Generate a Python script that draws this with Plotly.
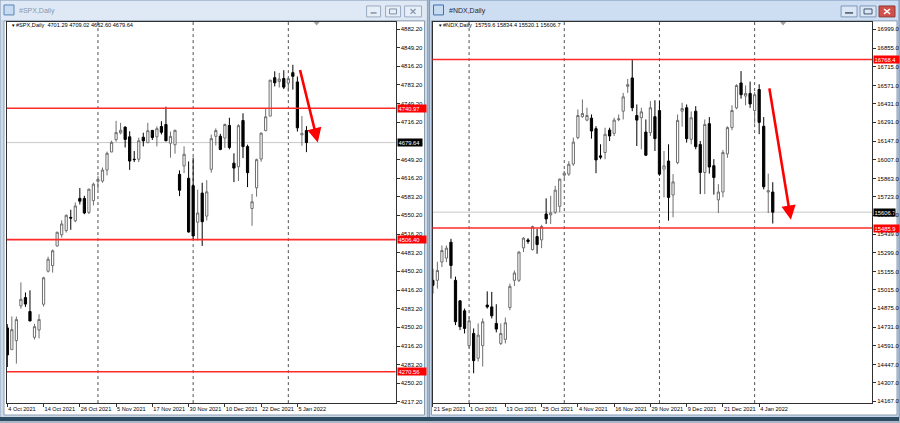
import plotly.graph_objects as go

# ---------------- data ----------------
spx_dates = ["2021-10-04","2021-10-05","2021-10-06","2021-10-07","2021-10-08","2021-10-11","2021-10-12","2021-10-13","2021-10-14","2021-10-15",
             "2021-10-18","2021-10-19","2021-10-20","2021-10-21","2021-10-22","2021-10-25","2021-10-26","2021-10-27","2021-10-28","2021-10-29",
             "2021-11-01","2021-11-02","2021-11-03","2021-11-04","2021-11-05","2021-11-08","2021-11-09","2021-11-10","2021-11-11","2021-11-12",
             "2021-11-15","2021-11-16","2021-11-17","2021-11-18","2021-11-19","2021-11-22","2021-11-23","2021-11-24","2021-11-26","2021-11-29",
             "2021-11-30","2021-12-01","2021-12-02","2021-12-03","2021-12-06","2021-12-07","2021-12-08","2021-12-09","2021-12-10","2021-12-13",
             "2021-12-14","2021-12-15","2021-12-16","2021-12-17","2021-12-20","2021-12-21","2021-12-22","2021-12-23","2021-12-27","2021-12-28",
             "2021-12-29","2021-12-30","2022-01-03","2022-01-04","2022-01-05","2022-01-06","2022-01-07"]
spx_open = [4348.8,4309.9,4326.0,4388.0,4403.0,4378.0,4332.0,4345.0,4391.0,4450.0,
            4460.0,4495.0,4515.0,4522.5,4546.1,4540.0,4580.0,4580.0,4555.0,4576.0,
            4610.6,4611.0,4630.7,4662.9,4685.0,4697.0,4707.3,4690.0,4650.0,4650.0,
            4689.3,4679.4,4701.5,4690.0,4708.4,4712.0,4678.5,4675.8,4623.0,4638.0,
            4616.0,4602.8,4537.5,4589.5,4548.4,4632.0,4690.9,4691.0,4687.6,4710.3,
            4643.0,4636.5,4719.1,4672.5,4562.0,4599.0,4650.4,4701.0,4727.0,4795.5,
            4788.6,4794.2,4786.0,4804.5,4788.0,4693.4,4701.29]
spx_high = [4355.5,4369.2,4369.0,4430.0,4412.0,4415.9,4356.0,4373.0,4440.0,4475.8,
            4488.8,4520.4,4540.9,4551.4,4559.7,4572.6,4598.5,4584.6,4597.6,4608.1,
            4620.3,4635.2,4663.5,4683.0,4718.5,4714.9,4708.5,4700.0,4664.6,4688.5,
            4697.4,4715.0,4701.5,4708.8,4717.8,4743.8,4699.4,4702.9,4630.0,4673.0,
            4646.0,4652.9,4595.5,4608.0,4612.6,4694.0,4705.1,4695.3,4713.6,4724.0,
            4660.5,4712.6,4732.0,4676.0,4588.0,4651.1,4697.7,4740.7,4791.5,4807.0,
            4804.1,4808.9,4796.6,4818.6,4797.7,4727.0,4709.02]
spx_low = [4278.9,4309.9,4285.0,4383.0,4386.2,4360.6,4328.0,4330.0,4386.7,4447.7,
           4447.5,4494.0,4510.0,4519.0,4524.0,4537.4,4569.2,4551.7,4552.0,4567.6,
           4595.1,4608.0,4621.2,4662.6,4681.3,4694.4,4670.9,4630.9,4645.0,4645.0,
           4672.9,4679.4,4684.4,4672.8,4694.2,4682.2,4652.7,4659.9,4584.0,4625.3,
           4519.0,4507.8,4504.7,4495.1,4540.5,4626.0,4674.5,4666.0,4670.2,4667.6,
           4609.0,4611.2,4651.9,4600.2,4531.1,4583.2,4645.5,4700.0,4727.0,4780.0,
           4778.1,4775.3,4771.0,4774.3,4699.4,4674.0,4662.60]
spx_close = [4300.5,4345.7,4363.6,4399.8,4391.3,4361.2,4351.0,4363.8,4438.3,4471.4,
             4486.5,4519.6,4534.4,4549.8,4544.9,4566.5,4575.0,4554.0,4596.4,4605.4,
             4613.7,4630.7,4660.6,4680.1,4697.5,4701.7,4685.3,4646.7,4649.3,4682.9,
             4682.8,4700.9,4688.7,4704.5,4698.0,4682.9,4690.7,4701.5,4594.6,4658.8,
             4520.0,4513.0,4554.0,4538.4,4591.7,4686.8,4701.2,4667.5,4712.0,4671.0,
             4634.1,4709.9,4672.5,4626.0,4574.0,4649.2,4696.6,4725.8,4791.2,4786.4,
             4793.1,4778.7,4793.8,4798.0,4706.0,4696.1,4679.64]

ndx_dates = ["2021-09-21","2021-09-22","2021-09-23","2021-09-24","2021-09-27","2021-09-28","2021-09-29","2021-09-30","2021-10-01","2021-10-04",
             "2021-10-05","2021-10-06","2021-10-07","2021-10-08","2021-10-11","2021-10-12","2021-10-13","2021-10-14","2021-10-15","2021-10-18",
             "2021-10-19","2021-10-20","2021-10-21","2021-10-22","2021-10-25","2021-10-26","2021-10-27","2021-10-28","2021-10-29","2021-11-01",
             "2021-11-02","2021-11-03","2021-11-04","2021-11-05","2021-11-08","2021-11-09","2021-11-10","2021-11-11","2021-11-12","2021-11-15",
             "2021-11-16","2021-11-17","2021-11-18","2021-11-19","2021-11-22","2021-11-23","2021-11-24","2021-11-26","2021-11-29","2021-11-30",
             "2021-12-01","2021-12-02","2021-12-03","2021-12-06","2021-12-07","2021-12-08","2021-12-09","2021-12-10","2021-12-13","2021-12-14",
             "2021-12-15","2021-12-16","2021-12-17","2021-12-20","2021-12-21","2021-12-22","2021-12-23","2021-12-27","2021-12-28","2021-12-29",
             "2021-12-30","2022-01-03","2022-01-04","2022-01-05","2022-01-06","2022-01-07"]
ndx_open = [15088,15088,15227,15257,15378,15088,14932,14856,14591,14684,
            14495,14591,14900,14886,14760,14608,14639,14881,15088,15088,
            15335,15395,15322,15421,15396,15593,15586,15606,15651,15888,
            15896,15973,16174,16333,16307,16322,16242,16035,16060,16231,
            16206,16310,16375,16564,16628,16342,16325,16216,16211,16333,
            16380,15934,15996,15737,15984,16375,16401,16161,16375,16121,
            15909,16280,15960,15700,15760,16050,16250,16400,16590,16490,
            16510,16380,16540,16260,15760,15759.6]
ndx_high = [15176,15229,15353,15353,15404,15116,14936,14873,14813,14722,
            14760,14798,15004,15000,14906,14760,14805,15063,15163,15310,
            15416,15409,15504,15479,15510,15712,15731,15807,15863,15921,
            15994,16174,16388,16464,16401,16350,16261,16123,16249,16249,
            16325,16350,16514,16620,16768,16426,16401,16312,16451,16458,
            16451,16072,16123,15896,16350,16439,16426,16373,16413,16148,
            16312,16330,16010,15820,16080,16260,16420,16580,16680,16570,
            16600,16520,16580,16330,15900,15834.4]
ndx_low = [14987,15025,15189,15227,15101,14747,14709,14684,14571,14381,
           14470,14432,14873,14798,14692,14596,14608,14861,15045,15075,
           15303,15366,15315,15290,15333,15517,15517,15593,15606,15863,
           15883,15959,16161,16325,16299,16166,15903,16009,16009,16148,
           16186,16299,16312,16514,16375,16110,16085,16034,16186,16072,
           15883,15719,15542,15568,15971,16257,16136,16123,16085,15744,
           15744,15900,15740,15600,15720,16020,16230,16390,16470,16420,
           16400,16280,16200,15780,15600,15520.1]
ndx_close = [15050,15163,15315,15333,15201,14773,14735,14722,14780,14477,
             14671,14773,14886,14818,14717,14684,14765,15042,15144,15303,
             15409,15384,15497,15360,15497,15555,15601,15774,15858,15903,
             15971,16140,16342,16357,16342,16224,16004,16025,16199,16186,
             16307,16316,16484,16577,16401,16307,16370,16040,16401,16166,
             15896,15959,15719,15837,16305,16395,16166,16325,16105,15909,
             16274,15950,15870,15760,16060,16250,16380,16570,16500,16510,
             16430,16500,16290,15800,15770,15606.7]

spx_tick_idx = [0, 8, 16, 24, 32, 40, 48, 56, 64]
spx_tick_labels = ["4 Oct 2021", "14 Oct 2021", "26 Oct 2021", "5 Nov 2021", "17 Nov 2021",
                   "30 Nov 2021", "10 Dec 2021", "22 Dec 2021", "5 Jan 2022"]
ndx_tick_idx = [0, 8, 16, 24, 32, 40, 48, 56, 64, 72]
ndx_tick_labels = ["21 Sep 2021", "1 Oct 2021", "13 Oct 2021", "25 Oct 2021", "4 Nov 2021",
                   "16 Nov 2021", "29 Nov 2021", "9 Dec 2021", "21 Dec 2021", "4 Jan 2022"]

spx_price_ticks = [4882.20, 4849.20, 4816.20, 4783.20, 4749.20, 4716.20, 4649.20, 4616.20, 4583.20,
                   4550.20, 4516.20, 4483.20, 4450.20, 4416.20, 4383.20, 4350.20, 4316.20, 4283.20, 4250.20, 4217.20]
ndx_price_ticks = [16999.0, 16855.0, 16715.0, 16571.0, 16431.0, 16291.0, 16147.0, 16007.0, 15863.0, 15723.0,
                   15583.0, 15439.0, 15299.0, 15155.0, 15015.0, 14875.0, 14731.0, 14591.0, 14447.0, 14307.0, 14167.0]

spx_levels = [4740.97, 4506.40, 4270.56]
ndx_levels = [16768.4, 15485.9]
spx_grid_idx = [20, 41, 62]
ndx_grid_idx = [8, 29, 50, 71]
spx_arrow = [(64.5, 4812.0), (68.5, 4680.0)]   # tail, tip
ndx_arrow = [(74.2, 16560.0), (79.0, 15549.0)]

# ---------------- helpers ----------------
W, H = 900, 423
def X(p): return p / W
def Y(p): return 1 - p / H

FONT = "Liberation Sans"
shapes = []
annots = []

def rect(x0, y0, x1, y1, fill, line=None, lw=0, layer="below"):
    shapes.append(dict(type="rect", xref="paper", yref="paper", x0=X(x0), x1=X(x1), y0=Y(y1), y1=Y(y0),
                       fillcolor=fill, line=dict(color=line or fill, width=lw), layer=layer))

def pline(x0, y0, x1, y1, color, w=1, layer="above"):
    shapes.append(dict(type="line", xref="paper", yref="paper", x0=X(x0), x1=X(x1), y0=Y(y0), y1=Y(y1),
                       line=dict(color=color, width=w), layer=layer))

def text(x, y, s, size=6, color="black", anchor="left"):
    annots.append(dict(xref="paper", yref="paper", x=X(x), y=Y(y), text=s, showarrow=False,
                       xanchor=anchor, yanchor="middle", font=dict(size=size, color=color, family=FONT)))

# window chrome
rect(0, 0, 900, 423, "#a9b7c8")
rect(0, 0, 428, 420, "#cddaea", "#8fa4bd", 1)
rect(1, 1, 427, 20, "#dfe9f5")
rect(4, 21, 425, 417, "white", "#8d9db0", 1)
rect(430, 0, 900, 420, "#c3d5ec", "#7f9bbd", 1)
rect(431, 1, 899, 20, "#cddef2")
rect(432, 21, 898, 417, "white", "#8d9db0", 1)
rect(0, 419, 900, 423, "#2e4d62")
# icons
rect(4, 5, 14, 15, "#c7dbf1", "#5a84b8", 1)
rect(434, 5, 444, 15, "#c7dbf1", "#3f70b0", 1)
# buttons
for bx0, bx1 in [(367, 381), (386, 401), (405, 422)]:
    rect(bx0, 6, bx1, 17, "#e6eef8", "#9aabc2", 1)
for bx0, bx1 in [(842, 858), (861, 877)]:
    rect(bx0, 6, bx1, 17, "#dbe7f5", "#7f97b8", 1)
rect(880, 6, 896, 17, "#d0514a", "#8e3a36", 1)
pline(371, 13, 377, 13, "#8090a8", 1.5)
rect(390, 9, 397, 14, "rgba(0,0,0,0)", "#8090a8", 1, layer="above")
pline(411, 9, 416, 14, "#8090a8", 1.2); pline(411, 14, 416, 9, "#8090a8", 1.2)
pline(846, 13, 854, 13, "#40546e", 1.5)
rect(865, 9, 873, 14, "rgba(0,0,0,0)", "#40546e", 1, layer="above")
pline(885, 9, 891, 14, "white", 1.5); pline(885, 14, 891, 9, "white", 1.5)

text(17, 11, "#SPX,Daily", 7, "#8797ad")
text(447, 11, "#NDX,Daily", 7, "#1d2b3c")

# header texts and markers
def header(name, o, h, l, c, digits):
    fmt = "{:." + str(digits) + "f}"
    return f"{name}  " + " ".join(fmt.format(v) for v in (o, h, l, c))

text(9, 25.5, "▼", 4.5)
text(14, 25.5, header("#SPX,Daily", spx_open[-1], spx_high[-1], spx_low[-1], spx_close[-1], 2), 5.6)
text(436, 25.5, "▼", 4.5)
text(441, 25.5, header("#NDX,Daily", ndx_open[-1], ndx_high[-1], ndx_low[-1], ndx_close[-1], 1), 5.6)

for mx in (317, 784):
    shapes.append(dict(type="path", xref="paper", yref="paper",
                       path=f"M {X(mx-3)},{Y(22)} L {X(mx+3)},{Y(22)} L {X(mx)},{Y(25.5)} Z",
                       fillcolor="#a0a0a0", line=dict(width=0), layer="above"))

# ---------------- figure ----------------
fig = go.Figure()

candle_style = dict(
    increasing=dict(line=dict(color="#6e6e6e", width=1), fillcolor="white"),
    decreasing=dict(line=dict(color="black", width=1), fillcolor="black"),
    whiskerwidth=0, showlegend=False, hoverinfo="skip")

fig.add_trace(go.Candlestick(x=list(range(len(spx_dates))), open=spx_open, high=spx_high,
                             low=spx_low, close=spx_close, xaxis="x", yaxis="y", **candle_style))
fig.add_trace(go.Candlestick(x=list(range(len(ndx_dates))), open=ndx_open, high=ndx_high,
                             low=ndx_low, close=ndx_close, xaxis="x2", yaxis="y2", **candle_style))

def panel_decor(xr, yr, levels, grid_idx, last_close, arrow, badge_x, digits, badge_w):
    for gi in grid_idx:
        shapes.append(dict(type="line", xref=xr, yref=f"{yr} domain", x0=gi, x1=gi, y0=0, y1=1,
                           line=dict(color="#505050", width=1, dash="dot"), layer="below"))
    shapes.append(dict(type="line", xref=f"{xr} domain", yref=yr, x0=0, x1=1, y0=last_close, y1=last_close,
                       line=dict(color="#c8c8c8", width=1), layer="below"))
    for lv in levels:
        shapes.append(dict(type="line", xref=f"{xr} domain", yref=yr, x0=0, x1=1, y0=lv, y1=lv,
                           line=dict(color="#ff2a2a", width=1.6), layer="above"))
        annots.append(dict(xref="paper", yref=yr, x=X(badge_x), y=lv, xanchor="left", yanchor="middle",
                           text=f"{lv:.{digits}f}", showarrow=False, bgcolor="#ff0000", borderpad=0.5,
                           width=badge_w, align="left",
                           font=dict(size=5.8, color="white", family=FONT)))
    annots.append(dict(xref="paper", yref=yr, x=X(badge_x), y=last_close, xanchor="left", yanchor="middle",
                       text=f"{last_close:.{digits}f}", showarrow=False, bgcolor="black", borderpad=0.5,
                       width=badge_w - 4, align="left",
                       font=dict(size=5.8, color="white", family=FONT)))
    (tx, ty), (hx, hy) = arrow
    annots.append(dict(xref=xr, yref=yr, x=hx, y=hy, ax=tx, ay=ty, axref=xr, ayref=yr, text="",
                       showarrow=True, arrowhead=2, arrowsize=1.1, arrowwidth=2.6, arrowcolor="#ff0000",
                       standoff=0))

panel_decor("x", "y", spx_levels, spx_grid_idx, spx_close[-1], spx_arrow, 397, 2, 27)
panel_decor("x2", "y2", ndx_levels, ndx_grid_idx, ndx_close[-1], ndx_arrow, 874, 1, 24)

axis_common = dict(showgrid=False, zeroline=False, showline=True, mirror=True, linecolor="#303030",
                   linewidth=1, ticks="outside", ticklen=3, tickcolor="#303030", fixedrange=True)

fig.update_layout(
    width=W, height=H, autosize=False,
    margin=dict(l=0, r=0, t=0, b=0),
    paper_bgcolor="#a9b7c8", plot_bgcolor="white",
    font=dict(family=FONT, size=6, color="black"),
    showlegend=False,
    xaxis=dict(domain=[X(7), X(396)], range=[-0.07, 85.66], anchor="y", tickangle=0,
               tickvals=spx_tick_idx, ticktext=spx_tick_labels, ticklabelposition="outside right",
               tickfont=dict(size=5.6), rangeslider=dict(visible=False), **axis_common),
    yaxis=dict(domain=[Y(405), Y(22)], range=[4214.5, 4895.2], anchor="x", side="right",
               tickvals=spx_price_ticks, ticktext=[f"{v:.2f}" for v in spx_price_ticks],
               tickfont=dict(size=6), **axis_common),
    xaxis2=dict(domain=[X(433), X(873)], range=[-0.07, 96.9], anchor="y2", tickangle=0,
                tickvals=ndx_tick_idx, ticktext=ndx_tick_labels, ticklabelposition="outside right",
                tickfont=dict(size=5.6), rangeslider=dict(visible=False), **axis_common),
    yaxis2=dict(domain=[Y(405), Y(22)], range=[14154, 17054.3], anchor="x2", side="right",
                tickvals=ndx_price_ticks, ticktext=[f"{v:.1f}" for v in ndx_price_ticks],
                tickfont=dict(size=6), **axis_common),
    shapes=shapes, annotations=annots,
)

fig.write_html("out.html", config={"displayModeBar": False},
               post_script="document.body.style.margin='0';document.body.style.overflow='hidden';")
